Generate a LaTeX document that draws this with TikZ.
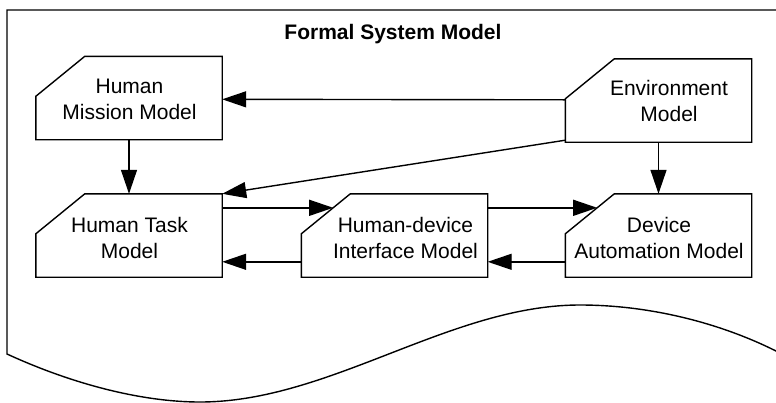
\documentclass[tikz,border=0pt]{standalone}
\usepackage{fontspec}
\setmainfont{Liberation Sans}
\usetikzlibrary{arrows.meta,calc}
\tikzset{
  boxnode/.style={draw=none,minimum width=186pt,minimum height=83pt,inner sep=0pt},
  boxline/.style={line width=1.4pt,line join=miter},
  lbl/.style={align=center,font=\fontsize{21}{26}\selectfont,inner sep=0pt},
  arr/.style={line width=1.4pt,-{Triangle[length=24pt,width=16pt]}},
  frame/.style={line width=1.4pt},
}
\newcommand{\cutbox}[5]{%
  \node[boxnode] (#1) at (#2) {};
  \draw[boxline] (#1.south west) -- (#1.south east) -- (#1.north east)
     -- ($(#1.north west)+(49,0)$) -- ($(#1.north west)+(0,40)$) -- cycle;
  \node[lbl] (#1-t) at ($(#1.center)+(#4,#5)$) {#3};
}
\begin{document}
\begin{tikzpicture}[x=1pt,y=-1pt]
\useasboundingbox (0,0) rectangle (776,402);
% outer document frame
\coordinate (ftl) at (7,10);
\coordinate (fbl) at (7,354);
\coordinate (ftr) at (790,10);
\coordinate (ftrough) at (200,402);
\coordinate (fpeak) at (580,305);
\coordinate (fend) at (776,351);
\draw[frame] (ftr) -- (ftl) -- (fbl)
  .. controls (70,383) and (140,402) .. (ftrough)
  .. controls (330,402) and (450,305) .. (fpeak)
  .. controls (650,305) and (720,323) .. (fend) -- (790,362);
\node[font=\bfseries\fontsize{21}{26}\selectfont] (title) at (393,34) {Formal System Model};
% boxes
\cutbox{hmm}{129,98}{Human\\Mission Model}{0.5}{1}
\cutbox{env}{658.5,100.5}{Environment\\Model}{10.5}{0}
\cutbox{htm}{129,235.5}{Human Task\\Model}{0.5}{2.5}
\cutbox{hdi}{394.5,235.5}{Human-device\\Interface Model}{11}{2.5}
\cutbox{dam}{658.5,235.5}{Device\\Automation Model}{0.5}{2.5}
% connectors
\draw[arr] ($(env.north west)+(0,41)$) -- ($(hmm.north east)+(0,43)$);
\draw[arr] (hmm.south) -- (htm.north);
\draw[arr] ($(env.south west)+(0,-2)$) -- (htm.north east);
\draw[arr] (env.south) -- (dam.north);
\draw[arr] ($(htm.north east)+(0,14)$) -- ($(hdi.north west)+(31.85,14)$);
\draw[arr] ($(hdi.north west)+(0,68)$) -- ($(htm.north east)+(0,68)$);
\draw[arr] ($(hdi.north east)+(0,14)$) -- ($(dam.north west)+(31.85,14)$);
\draw[arr] ($(dam.north west)+(0,68)$) -- ($(hdi.north east)+(0,68)$);
\end{tikzpicture}
\end{document}
